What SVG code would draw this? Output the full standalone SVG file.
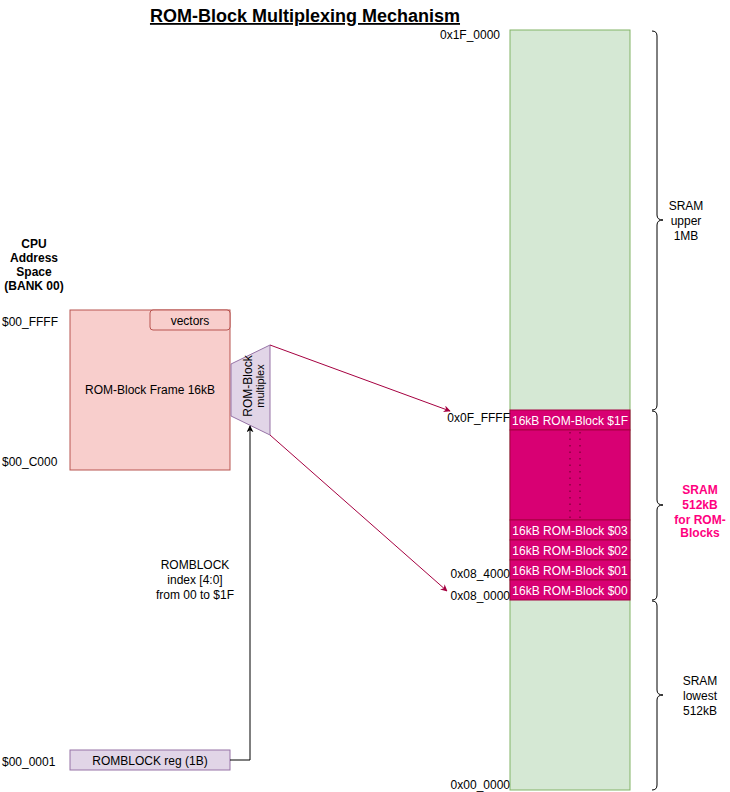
<svg xmlns="http://www.w3.org/2000/svg" width="730" height="792" viewBox="0 0 730 792">
<defs>
<style>
text{font-family:"Liberation Sans",Arial,sans-serif;font-size:12px;fill:#000}
.c{text-anchor:middle}
.r{text-anchor:end}
.w{fill:#fff}
.b{font-weight:bold}
.rom{fill:#d80073;stroke:#a50040;stroke-width:1}
.br{fill:none;stroke:#000;stroke-width:1}
</style>
<marker id="ak" viewBox="0 0 10 10" refX="9" refY="5" markerWidth="7" markerHeight="7" orient="auto" markerUnits="userSpaceOnUse"><path d="M0,0 L10,5 L0,10 L3,5 Z" fill="#000"/></marker>
<marker id="ar" viewBox="0 0 10 10" refX="9" refY="5" markerWidth="7" markerHeight="7" orient="auto" markerUnits="userSpaceOnUse"><path d="M0,0 L10,5 L0,10 L3,5 Z" fill="#a50040"/></marker>
</defs>
<rect width="730" height="792" fill="#fff"/>
<g id="title">
<text x="305" y="22" class="c b" style="font-size:18px;text-decoration:underline">ROM-Block Multiplexing Mechanism</text>
</g>
<g id="sram">
<rect x="510" y="30" width="120" height="760" fill="#d5e8d4" stroke="#82b366"/>
<text x="500" y="39" class="r">0x1F_0000</text>
<text x="510" y="789" class="r">0x00_0000</text>
</g>
<g id="rom1f"><rect x="510" y="410" width="120" height="20" class="rom"/><text x="570" y="425" class="c w">16kB ROM-Block $1F</text></g>
<g id="romgap"><rect x="510" y="430" width="120" height="90" class="rom"/>
<line x1="570" y1="432" x2="570" y2="520" stroke="#8a0040" stroke-width="1.5" stroke-dasharray="1.5 5"/>
<line x1="580" y1="432" x2="580" y2="520" stroke="#8a0040" stroke-width="1.5" stroke-dasharray="1.5 5"/></g>
<g id="rom03"><rect x="510" y="520" width="120" height="20" class="rom"/><text x="570" y="535" class="c w">16kB ROM-Block $03</text></g>
<g id="rom02"><rect x="510" y="540" width="120" height="20" class="rom"/><text x="570" y="555" class="c w">16kB ROM-Block $02</text></g>
<g id="rom01"><rect x="510" y="560" width="120" height="20" class="rom"/><text x="570" y="575" class="c w">16kB ROM-Block $01</text></g>
<g id="rom00"><rect x="510" y="580" width="120" height="20" class="rom"/><text x="570" y="595" class="c w">16kB ROM-Block $00</text></g>
<g id="addrlabels">
<text x="510" y="422" class="r">0x0F_FFFF</text>
<text x="510" y="578" class="r">0x08_4000</text>
<text x="510" y="600" class="r">0x08_0000</text>
</g>
<g id="braces">
<path class="br" d="M652,31 Q657,31 657,36 L657,215 Q657,220 663,220 Q657,220 657,225 L657,405 Q657,410 652,410"/>
<path class="br" d="M652,411 Q657,411 657,416 L657,500 Q657,505 663,505 Q657,505 657,510 L657,595 Q657,600 652,600"/>
<path class="br" d="M652,601 Q657,601 657,606 L657,690 Q657,695 663,695 Q657,695 657,700 L657,785 Q657,790 652,790"/>
</g>
<g id="sramlabels">
<text x="686" y="210" class="c">SRAM</text>
<text x="686" y="225" class="c">upper</text>
<text x="686" y="240" class="c">1MB</text>
<text x="700" y="494" class="c b" style="fill:#ff0080">SRAM</text>
<text x="700" y="509" class="c b" style="fill:#ff0080">512kB</text>
<text x="700" y="524" class="c b" style="fill:#ff0080">for ROM-</text>
<text x="700" y="537" class="c b" style="fill:#ff0080">Blocks</text>
<text x="700" y="685" class="c">SRAM</text>
<text x="700" y="700" class="c">lowest</text>
<text x="700" y="715" class="c">512kB</text>
</g>
<g id="cpu">
<text x="34" y="248" class="c b">CPU</text>
<text x="34" y="262" class="c b">Address</text>
<text x="34" y="276" class="c b">Space</text>
<text x="34" y="290" class="c b">(BANK 00)</text>
<text x="2" y="326">$00_FFFF</text>
<text x="2" y="466">$00_C000</text>
<text x="2" y="766">$00_0001</text>
</g>
<g id="frame">
<rect x="70" y="310" width="160" height="160" fill="#f8cecc" stroke="#b85450"/>
<text x="150" y="394" class="c">ROM-Block Frame 16kB</text>
</g>
<g id="vectors">
<rect x="150" y="310" width="80" height="20" rx="3" fill="#f8cecc" stroke="#b85450"/>
<text x="190" y="325" class="c">vectors</text>
</g>
<g id="mux">
<path d="M231,364 L270,345 L270,435 L231,416 Z" fill="#e1d5e7" stroke="#9673a6"/>
<text transform="translate(252,386) rotate(-90)" class="c" y="0">ROM-Block</text>
<text transform="translate(252,386) rotate(-90)" class="c" y="12" style="font-size:11px">multiplex</text>
</g>
<g id="romreg">
<rect x="70" y="750" width="160" height="20" fill="#e1d5e7" stroke="#9673a6"/>
<text x="150" y="765" class="c">ROMBLOCK reg (1B)</text>
</g>
<g id="indexlabel">
<text x="195" y="569" class="c">ROMBLOCK</text>
<text x="195" y="584" class="c">index [4:0]</text>
<text x="195" y="599" class="c">from 00 to $1F</text>
</g>
<g id="connectors">
<line x1="270" y1="345" x2="450" y2="411" stroke="#a50040" marker-end="url(#ar)"/>
<line x1="270" y1="435" x2="447" y2="591" stroke="#a50040" marker-end="url(#ar)"/>
<path d="M230,760 L250,760 L250,426" fill="none" stroke="#000" marker-end="url(#ak)"/>
</g>
</svg>
